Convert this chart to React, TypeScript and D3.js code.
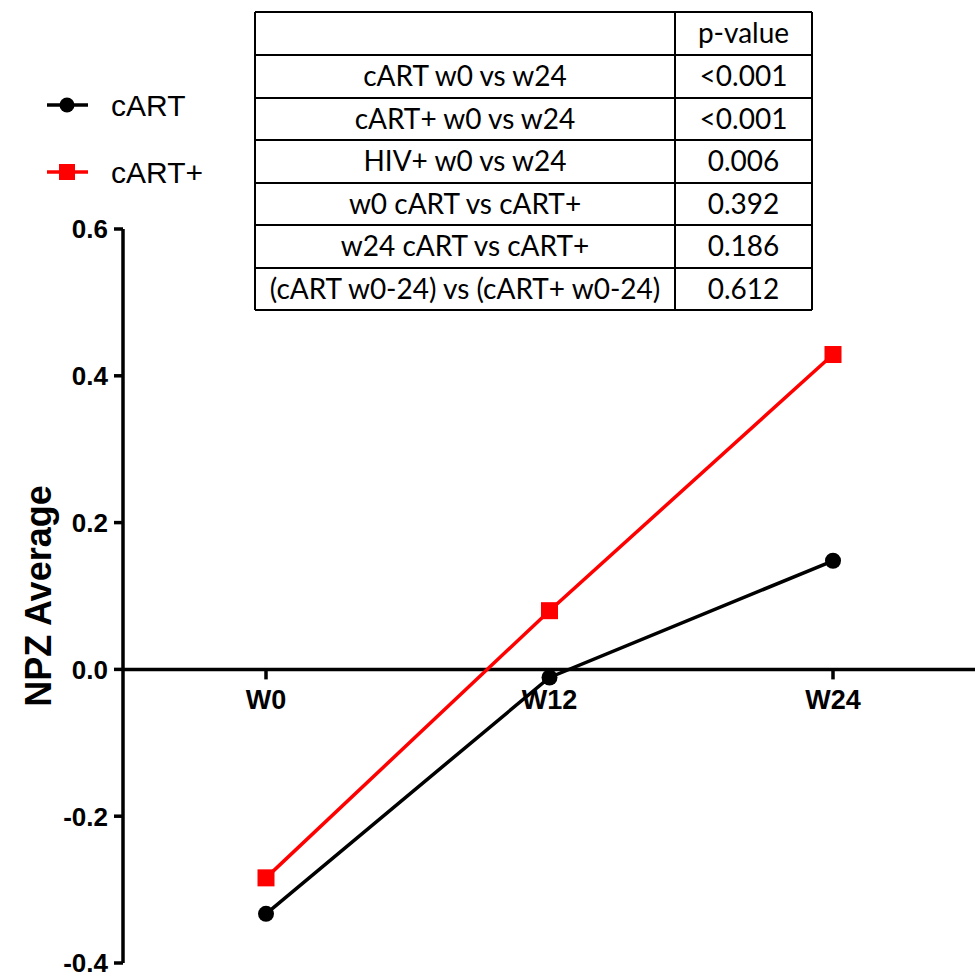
import React from "react";
import * as d3 from "d3";

const categories = ["W0", "W12", "W24"];
const cartValues = [-0.333, -0.011, 0.148];
const cartPlusValues = [-0.284, 0.08, 0.429];
const yTicks = [-0.4, -0.2, 0.0, 0.2, 0.4, 0.6];
const tableComparisons = [
  "cART w0 vs w24",
  "cART+ w0 vs w24",
  "HIV+ w0 vs w24",
  "w0 cART vs cART+",
  "w24 cART vs cART+",
  "(cART w0-24) vs (cART+ w0-24)",
];
const tablePValues = ["<0.001", "<0.001", "0.006", "0.392", "0.186", "0.612"];

export default function App() {
  const W = 975, H = 976;
  const axisX = 123;
  const y = d3.scaleLinear().domain([-0.4, 0.6]).range([963, 229]);
  const x = d3.scalePoint<string>().domain(categories).range([266, 833]);
  const line = d3.line<number>().x((_, i) => x(categories[i])!).y((d) => y(d));
  const fmt = (t: number) => d3.format(".1f")(t).replace("\u2212", "-");
  const tickFont = "'Liberation Sans', Arial, sans-serif";
  const tblFont = "Lato, 'Open Sans', sans-serif";

  const tblLeft = 255, tblRight = 812, tblDiv = 675, tblTop = 12;
  const rowH = [43, 43, 42, 43, 42, 43, 42];
  const rowY: number[] = [tblTop];
  rowH.forEach((h) => rowY.push(rowY[rowY.length - 1] + h));

  return (
    <svg width={W} height={H} style={{ position: "absolute", left: 0, top: 0 }}>
      <rect width={W} height={H} fill="white" />
      {/* table */}
      <g fontFamily={tblFont} fontSize={28} fill="#000">
        {rowY.map((ry, i) => (
          <line key={"h" + i} x1={tblLeft} x2={tblRight} y1={ry} y2={ry} stroke="#000" strokeWidth={2} />
        ))}
        <line x1={tblLeft} x2={tblLeft} y1={tblTop} y2={rowY[rowY.length - 1]} stroke="#000" strokeWidth={2} />
        <line x1={tblRight} x2={tblRight} y1={tblTop} y2={rowY[rowY.length - 1]} stroke="#000" strokeWidth={2} />
        <line x1={tblDiv} x2={tblDiv} y1={tblTop} y2={rowY[rowY.length - 1]} stroke="#000" strokeWidth={2} />
        <text x={(tblDiv + tblRight) / 2} y={(rowY[0] + rowY[1]) / 2} dy="0.35em" textAnchor="middle">p-value</text>
        {tableComparisons.map((c, i) => (
          <g key={c}>
            <text x={(tblLeft + tblDiv) / 2} y={(rowY[i + 1] + rowY[i + 2]) / 2} dy="0.35em" textAnchor="middle">{c}</text>
            <text x={(tblDiv + tblRight) / 2} y={(rowY[i + 1] + rowY[i + 2]) / 2} dy="0.35em" textAnchor="middle">{tablePValues[i]}</text>
          </g>
        ))}
      </g>
      {/* legend */}
      <g fontFamily={tickFont} fontSize={30}>
        <line x1={47} x2={88} y1={105} y2={105} stroke="#000" strokeWidth={3.5} />
        <circle cx={67} cy={105} r={7.5} fill="#000" />
        <text x={111} y={105} dy="0.35em">cART</text>
        <line x1={47} x2={88} y1={172} y2={172} stroke="#ff0000" strokeWidth={3.5} />
        <rect x={59} y={164} width={16} height={16} fill="#ff0000" />
        <text x={111} y={172} dy="0.35em">cART+</text>
      </g>
      {/* y axis */}
      <line x1={axisX} x2={axisX} y1={y(0.6)} y2={y(-0.4)} stroke="#000" strokeWidth={3.5} />
      {yTicks.map((t) => (
        <g key={t}>
          <line x1={axisX - 9} x2={axisX} y1={y(t)} y2={y(t)} stroke="#000" strokeWidth={3.5} />
          <text x={axisX - 15} y={y(t)} dy="0.36em" textAnchor="end" fontFamily={tickFont} fontWeight="bold" fontSize={26}>
            {fmt(t)}
          </text>
        </g>
      ))}
      <text
        transform={`translate(38,${y(0.1)})rotate(-90)`}
        textAnchor="middle"
        dy="0.35em"
        fontFamily={tickFont}
        fontWeight="bold"
        fontSize={36}
      >
        NPZ Average
      </text>
      {/* x axis at zero */}
      <line x1={axisX} x2={W} y1={y(0)} y2={y(0)} stroke="#000" strokeWidth={3.5} />
      {categories.map((c) => (
        <g key={c}>
          <line x1={x(c)} x2={x(c)} y1={y(0)} y2={y(0) + 10} stroke="#000" strokeWidth={3.5} />
          <text x={x(c)} y={y(0) + 40} textAnchor="middle" fontFamily={tickFont} fontWeight="bold" fontSize={27}>
            {c}
          </text>
        </g>
      ))}
      {/* series */}
      <path d={line(cartValues)!} fill="none" stroke="#000" strokeWidth={3.5} />
      {cartValues.map((v, i) => (
        <circle key={"c" + i} cx={x(categories[i])} cy={y(v)} r={8} fill="#000" />
      ))}
      <path d={line(cartPlusValues)!} fill="none" stroke="#ff0000" strokeWidth={3.5} />
      {cartPlusValues.map((v, i) => (
        <rect key={"r" + i} x={x(categories[i])! - 8.5} y={y(v) - 8.5} width={17} height={17} fill="#ff0000" />
      ))}
    </svg>
  );
}
